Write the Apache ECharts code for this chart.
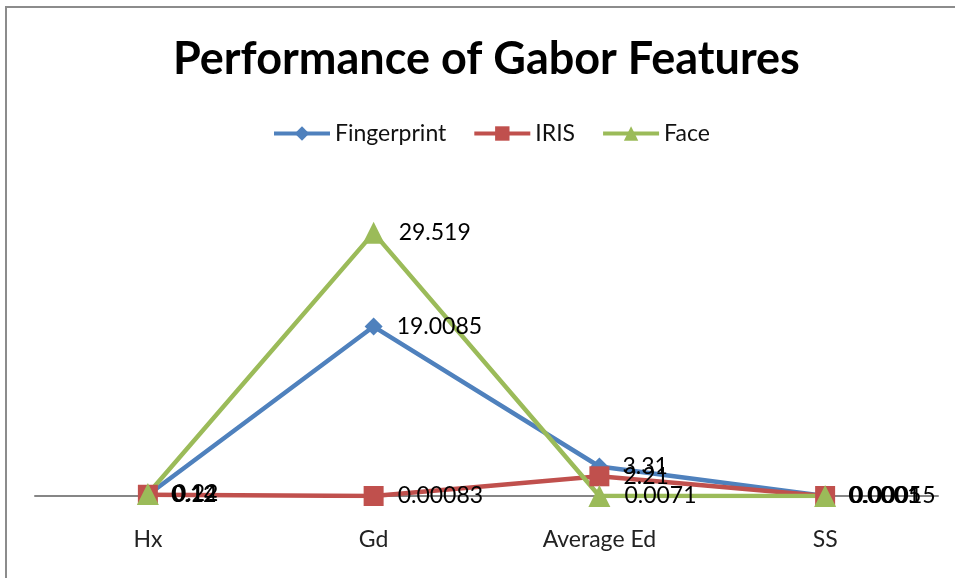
<!DOCTYPE html>
<html>
<head>
<meta charset="utf-8">
<script src="https://cdn.jsdelivr.net/npm/echarts@6/dist/echarts.min.js"></script>
<style>
  html, body { margin: 0; padding: 0; background: #fff; }
  #frame { position: absolute; left: 5px; top: 6px; width: 960px; height: 590px; border: 2px solid #8c8c8c; box-sizing: border-box; }
  #chart { position: absolute; left: 0; top: 0; width: 955px; height: 578px; }
</style>
</head>
<body>
<div id="frame"></div>
<div id="chart"></div>
<script>
var categories = ['Hx', 'Gd', 'Average Ed', 'SS'];
var fingerprint = [0.12, 19.0085, 3.31, 0.0001];
var iris = [0.14, 0.00083, 2.21, 0.0005];
var face = [0.22, 29.519, 0.0071, 0.00015];

var font = 'Lato, "Open Sans", sans-serif';

function makeSeries(name, data, color, symbol, size) {
    return {
        name: name,
        type: 'line',
        data: data,
        symbol: symbol,
        symbolSize: size,
        lineStyle: { width: 4.5, color: color },
        itemStyle: { color: color },
        label: {
            show: true,
            position: 'right',
            distance: 14,
            color: '#000',
            fontSize: 23,
            fontFamily: font,
            formatter: function (p) { return String(p.value); }
        },
        animation: false
    };
}

var chart = echarts.init(document.getElementById('chart'));
chart.setOption({
    animation: false,
    title: {
        text: 'Performance of Gabor Features',
        left: 168,
        top: 32,
        textStyle: { fontSize: 45, fontWeight: 'bold', color: '#000', fontFamily: font }
    },
    legend: {
        top: 117,
        left: 267,
        itemWidth: 56,
        itemHeight: 18,
        itemGap: 26,
        lineStyle: { width: 4 },
        textStyle: { fontSize: 23, color: '#111', fontFamily: font },
        data: ['Fingerprint', 'IRIS', 'Face']
    },
    grid: { left: 35, right: 17, top: 184, bottom: 82 },
    xAxis: {
        type: 'category',
        data: categories,
        boundaryGap: true,
        axisLine: { lineStyle: { color: '#868686', width: 2 } },
        axisTick: { show: false },
        axisLabel: { fontSize: 23, color: '#222', margin: 32, fontFamily: font }
    },
    yAxis: {
        type: 'value',
        min: 0,
        max: 35,
        show: false,
        splitLine: { show: false }
    },
    series: [
        makeSeries('Fingerprint', fingerprint, '#4F81BD', 'diamond', 18),
        makeSeries('IRIS', iris, '#C0504D', 'rect', 20),
        makeSeries('Face', face, '#9BBB59', 'triangle', 22)
    ]
});
</script>
</body>
</html>
